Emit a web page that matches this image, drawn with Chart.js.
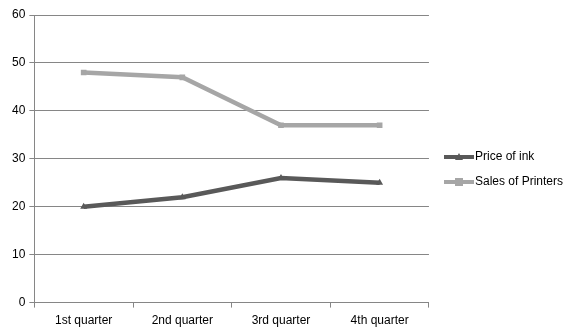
<!DOCTYPE html>
<html>
<head>
<meta charset="utf-8">
<script src="https://cdn.jsdelivr.net/npm/chart.js@4"></script>
<style>
  html, body { margin: 0; padding: 0; background: #fff; }
  #wrap { width: 576px; height: 336px; }
</style>
</head>
<body>
<div id="wrap"><canvas id="chart" width="576" height="336"></canvas></div>
<script>
const quarters = ["1st quarter", "2nd quarter", "3rd quarter", "4th quarter"];
const priceOfInk = [20, 22, 26, 25];
const salesOfPrinters = [48, 47, 37, 37];

const inkColor = "#595959";
const salesColor = "#a6a6a6";
const fontFamily = "'Liberation Sans', Arial, sans-serif";

// legend sample: thick line with the marker in the middle
const legendIcon = (color, style) => {
  const c = document.createElement("canvas");
  c.width = 30; c.height = 10;
  const ctx = c.getContext("2d");
  ctx.strokeStyle = color;
  ctx.lineWidth = 4;
  ctx.beginPath(); ctx.moveTo(0, 5); ctx.lineTo(30, 5); ctx.stroke();
  ctx.fillStyle = color;
  if (style === "triangle") {
    ctx.beginPath(); ctx.moveTo(15, 1); ctx.lineTo(19, 8); ctx.lineTo(11, 8); ctx.closePath(); ctx.fill();
  } else {
    ctx.fillRect(11, 1, 8, 8);
  }
  return c;
};

// leave a gap between plot and legend, nudge legend into place
const legendGap = {
  id: "legendGap",
  beforeInit(chart) {
    const fit = chart.legend.fit;
    chart.legend.fit = function () {
      fit.call(this);
      this.width += 7;
    };
  },
  afterLayout(chart) {
    const lg = chart.legend;
    lg.left += 7;
    lg.right += 7;
    lg.top -= 5;
    lg.bottom -= 5;
  }
};

new Chart(document.getElementById("chart"), {
  type: "line",
  data: {
    labels: quarters,
    datasets: [
      {
        label: "Price of ink",
        data: priceOfInk,
        borderColor: inkColor,
        backgroundColor: inkColor,
        borderWidth: 4.5,
        pointStyle: "triangle",
        pointRadius: 4,
        pointBorderWidth: 0,
        pointBackgroundColor: inkColor,
        tension: 0
      },
      {
        label: "Sales of Printers",
        data: salesOfPrinters,
        borderColor: salesColor,
        backgroundColor: salesColor,
        borderWidth: 4.5,
        pointStyle: "rect",
        pointRadius: 4,
        pointBorderWidth: 0,
        pointBackgroundColor: salesColor,
        tension: 0
      }
    ]
  },
  plugins: [legendGap],
  options: {
    responsive: false,
    animation: false,
    layout: { padding: { left: 8, top: 15, right: 3, bottom: 2 } },
    plugins: {
      tooltip: { enabled: false },
      legend: {
        position: "right",
        labels: {
          usePointStyle: true,
          pointStyleWidth: 20,
          color: "#000",
          font: { family: fontFamily, size: 12 },
          padding: 13,
          generateLabels: chart => chart.data.datasets.map((ds, i) => ({
            text: ds.label,
            pointStyle: legendIcon(ds.borderColor, ds.pointStyle),
            fillStyle: ds.borderColor,
            strokeStyle: ds.borderColor,
            lineWidth: 0,
            hidden: false,
            datasetIndex: i
          }))
        }
      }
    },
    scales: {
      x: {
        offset: true,
        grid: {
          offset: true,
          drawOnChartArea: false,
          drawTicks: true,
          tickLength: 5,
          color: "#868686"
        },
        border: { color: "#868686" },
        ticks: {
          color: "#000",
          padding: 6,
          maxRotation: 0,
          font: { family: fontFamily, size: 12 }
        }
      },
      y: {
        min: 0,
        max: 60,
        ticks: {
          stepSize: 10,
          color: "#000",
          padding: 4,
          font: { family: fontFamily, size: 12 }
        },
        grid: { color: "#868686", tickLength: 5 },
        border: { color: "#868686" }
      }
    }
  }
});
</script>
</body>
</html>
